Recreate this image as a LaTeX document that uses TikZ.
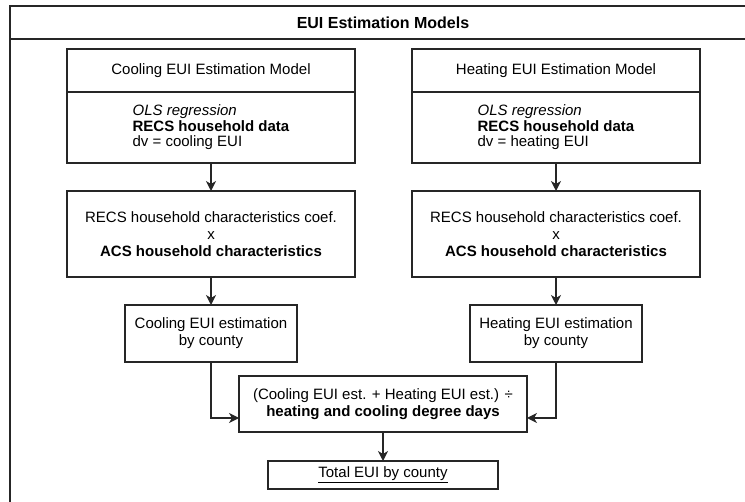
\documentclass[tikz,border=0pt]{standalone}
\usepackage{fontspec}
\setmainfont{Liberation Sans}
\usetikzlibrary{positioning, arrows.meta}

\begin{document}
\begin{tikzpicture}[
        x=1pt, y=-1pt,
        node distance=28pt and 57pt,
        mybox/.style={rectangle, draw=black!85, line width=1.2pt, outer sep=0pt, inner sep=2pt, align=center, font=\fontsize{15}{17}\selectfont},
        modelbox/.style={mybox, minimum width=288pt},
        estbox/.style={mybox, minimum width=172pt, minimum height=57pt},
        arrow/.style={-{Stealth[length=10pt, width=10pt, inset=3pt]}, line width=1.2pt, draw=black!85}
    ]
%
    \useasboundingbox (0,0) rectangle (745,502);
%
    % Frame and title
    \begin{scope}
        \clip (0,0) rectangle (745,502);
        \draw[black!85, line width=1.4pt] (10,6) rectangle (757,520);
        \draw[black!85, line width=1.4pt] (10,39) -- (757,39);
    \end{scope}
    \node[font=\fontsize{16}{18}\selectfont\bfseries] (title) at (383,22.5) {EUI Estimation Models};
%
    % Cooling column
    \node[modelbox, minimum height=43pt] (cmhead) at (211,70.5) {Cooling EUI Estimation Model};
    \node[modelbox, minimum height=71pt, align=left, font=\fontsize{15}{15.5}\selectfont, below=0pt of cmhead] (cmbody) {\textit{OLS regression}\\\textbf{RECS household data}\\dv = cooling EUI};
    \node[modelbox, minimum height=86pt, below=of cmbody] (crecs) {RECS household characteristics coef.\\x\\\textbf{ACS household characteristics}};
    \node[estbox, below=of crecs] (cest) {Cooling EUI estimation\\by county};
%
    % Heating column
    \node[modelbox, minimum height=43pt, right=of cmhead] (hmhead) {Heating EUI Estimation Model};
    \node[modelbox, minimum height=71pt, align=left, font=\fontsize{15}{15.5}\selectfont, below=0pt of hmhead] (hmbody) {\textit{OLS regression}\\\textbf{RECS household data}\\dv = heating EUI};
    \node[modelbox, minimum height=86pt, below=of hmbody] (hrecs) {RECS household characteristics coef.\\x\\\textbf{ACS household characteristics}};
    \node[estbox, below=of hrecs] (hest) {Heating EUI estimation\\by county};
%
    % Combination and total
    \coordinate (join) at (cest.south -| title);
    \node[mybox, minimum width=288pt, minimum height=56pt, below=14pt of join] (comb) {(Cooling EUI est. + Heating EUI est.) ÷\\\textbf{heating and cooling degree days}};
    \node[mybox, minimum width=230pt, minimum height=28pt, below=29pt of comb] (total) {\underline{Total EUI by county}};
%
    % Arrows
    \draw[arrow] (cmbody) -- (crecs);
    \draw[arrow] (hmbody) -- (hrecs);
    \draw[arrow] (crecs) -- (cest);
    \draw[arrow] (hrecs) -- (hest);
    \draw[arrow] (cest.south) |- ([yshift=-14pt]comb.west);
    \draw[arrow] (hest.south) |- ([yshift=-14pt]comb.east);
    \draw[arrow] (comb) -- (total);
%
\end{tikzpicture}
\end{document}
